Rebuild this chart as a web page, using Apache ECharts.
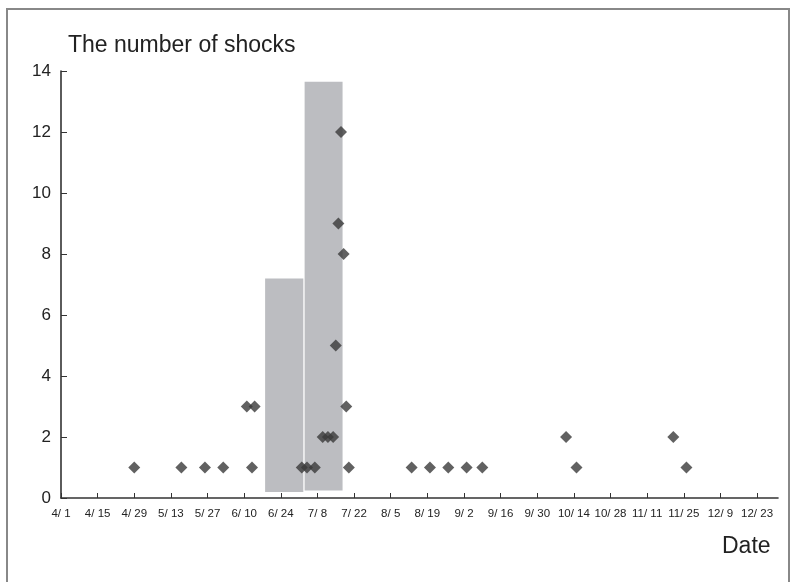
<!DOCTYPE html>
<html>
<head>
<meta charset="utf-8">
<script src="https://cdn.jsdelivr.net/npm/echarts@6/dist/echarts.min.js"></script>
<style>html,body{margin:0;padding:0;background:#fff;}#c{width:795px;height:582px;}</style>
</head>
<body>
<div id="c"></div>
<script>
// Days counted from 4/1
const tickDays = [0,14,28,42,56,70,84,98,112,126,140,154,168,182,196,210,224,238,252,266];
const tickLabels = ['4/ 1','4/ 15','4/ 29','5/ 13','5/ 27','6/ 10','6/ 24','7/ 8','7/ 22','8/ 5','8/ 19','9/ 2','9/ 16','9/ 30','10/ 14','10/ 28','11/ 11','11/ 25','12/ 9','12/ 23'];
const shockDays   = [28,46,55,62,71,73,74,92,94,97,100,102,104,105,106,107,108,109,110,134,141,148,155,161,193,197,234,239];
const shockCounts = [1, 1, 1, 1, 3, 1, 3, 1, 1, 1, 2,  2,  2,  5,  9,  12, 8,  3,  1,  1,  1,  1,  1,  1,  2,  1,  2,  1];
const periodStart  = [78, 93.1];
const periodEnd    = [92.6, 107.6];
const periodBottom = [0.2, 0.25];
const periodTop    = [7.2, 13.65];

const chart = echarts.init(document.getElementById('c'));
const font = '"Liberation Sans", Arial, sans-serif';
chart.setOption({
  animation: false,
  grid: {left: 61, right: 17, top: 71, bottom: 84},
  xAxis: {
    type: 'value', min: 0, max: 274, interval: 14,
    splitLine: {show: false},
    axisLine: {lineStyle: {color: '#333', width: 1.6}},
    axisTick: {inside: true, length: 5, customValues: tickDays, lineStyle: {color: '#333', width: 1}},
    axisLabel: {customValues: tickDays, margin: 10, fontSize: 11.5, color: '#222', fontFamily: font,
      formatter: v => { const i = tickDays.indexOf(v); return i >= 0 ? tickLabels[i] : ''; }}
  },
  yAxis: {
    type: 'value', min: 0, max: 14, interval: 2,
    splitLine: {show: false},
    axisLine: {show: true, lineStyle: {color: '#333', width: 1.6}},
    axisTick: {show: true, inside: true, length: 6, lineStyle: {color: '#333', width: 1}},
    axisLabel: {margin: 10, fontSize: 17, color: '#222', fontFamily: font}
  },
  graphic: [
    {type: 'rect', shape: {x: 7, y: 9, width: 782, height: 590}, style: {fill: null, stroke: '#888', lineWidth: 2}, silent: true},
    {type: 'text', left: 68, top: 34, style: {text: 'The number of shocks', fontSize: 23, fill: '#222', fontFamily: font}},
    {type: 'text', left: 722, top: 535, style: {text: 'Date', fontSize: 23, fill: '#222', fontFamily: font}}
  ],
  series: [
    {
      type: 'custom',
      data: periodStart.map((s, i) => [s, periodEnd[i], periodBottom[i], periodTop[i]]),
      renderItem: (params, api) => {
        const p0 = api.coord([api.value(0), api.value(3)]);
        const p1 = api.coord([api.value(1), api.value(2)]);
        return {type: 'rect', shape: {x: p0[0], y: p0[1], width: p1[0] - p0[0], height: p1[1] - p0[1]},
          style: {fill: '#bcbdc1'}};
      },
      z: 1
    },
    {
      type: 'scatter',
      symbol: 'diamond',
      symbolSize: [12, 12],
      itemStyle: {color: '#3a3a3a'},
      data: shockDays.map((d, i) => [d, shockCounts[i]]),
      z: 3
    }
  ]
});
</script>
</body>
</html>
